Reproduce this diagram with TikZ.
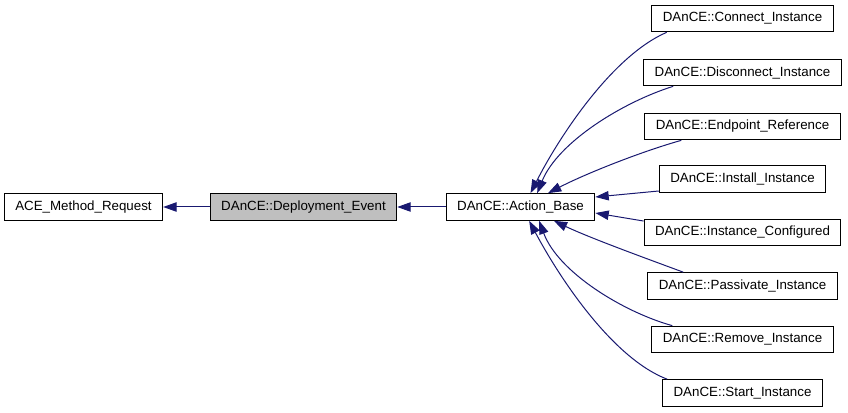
\documentclass[tikz,border=0pt]{standalone}
\usepackage{fontspec}
\setmainfont{Liberation Sans}
\usetikzlibrary{arrows.meta}
\definecolor{edgeblue}{HTML}{191970}
\definecolor{boxgray}{HTML}{BFBFBF}
\begin{document}
\begin{tikzpicture}[x=0.75pt,y=-0.75pt,
		cls/.style={draw=black,line width=0.75pt,fill=white,inner xsep=8.25pt,inner ysep=0pt,
			minimum height=20pt,font=\fontsize{10pt}{12pt}\selectfont},
		inh/.style={draw=edgeblue,line width=0.75pt,-{Triangle[length=10pt,width=7pt]}}]
		\useasboundingbox (0,0) rectangle (848,413);
		\node[cls] (ace) at (83.5,207) {ACE\_Method\_Request};
		\node[cls,fill=boxgray] (de) at (303.5,207) {DAnCE::Deployment\_Event};
		\node[cls] (ab) at (520.5,207) {DAnCE::Action\_Base};
		
		\node[cls] (cn) at (742.5,18.5) {DAnCE::Connect\_Instance};
		\node[cls] (dc) at (742.5,72.5) {DAnCE::Disconnect\_Instance};
		\node[cls] (ep) at (742.5,126.5) {DAnCE::Endpoint\_Reference};
		\node[cls] (ii) at (742.5,179) {DAnCE::Install\_Instance};
		\node[cls] (ic) at (742.5,232.5) {DAnCE::Instance\_Configured};
		\node[cls] (pi) at (742.5,286) {DAnCE::Passivate\_Instance};
		\node[cls] (ri) at (742.5,339.5) {DAnCE::Remove\_Instance};
		\node[cls] (si) at (742.5,393) {DAnCE::Start\_Instance};
		
		\draw[inh] (de.west) -- (ace.east);
		\draw[inh] (ab.west) -- (de.east);
		
		\draw[inh] ([xshift=11.5pt]cn.south west) .. controls (612,56) and (559,137) .. ([xshift=7.5pt]ab.north);
		\draw[inh] ([xshift=22.5pt]dc.south west) .. controls (623,102) and (558,142) .. ([xshift=12.5pt]ab.north);
		\draw[inh] ([xshift=27.75pt]ep.south west) .. controls (640,152) and (585,174) .. ([xshift=20.6pt]ab.north);
		\draw[inh] ([yshift=-9pt]ii.west) -- ([yshift=7.5pt]ab.east);
		\draw[inh] ([yshift=8.6pt]ic.west) -- ([yshift=-4.5pt]ab.east);
		\draw[inh] ([xshift=27pt]pi.north west) .. controls (645,258) and (590,238) .. ([xshift=25pt]ab.south);
		\draw[inh] ([xshift=15.75pt]ri.north west) .. controls (623,312) and (558,272) .. ([xshift=14pt]ab.south);
		\draw[inh] ([xshift=3.75pt]si.north west) .. controls (612,358) and (559,277) .. ([xshift=6.5pt]ab.south);
\end{tikzpicture}
\end{document}
